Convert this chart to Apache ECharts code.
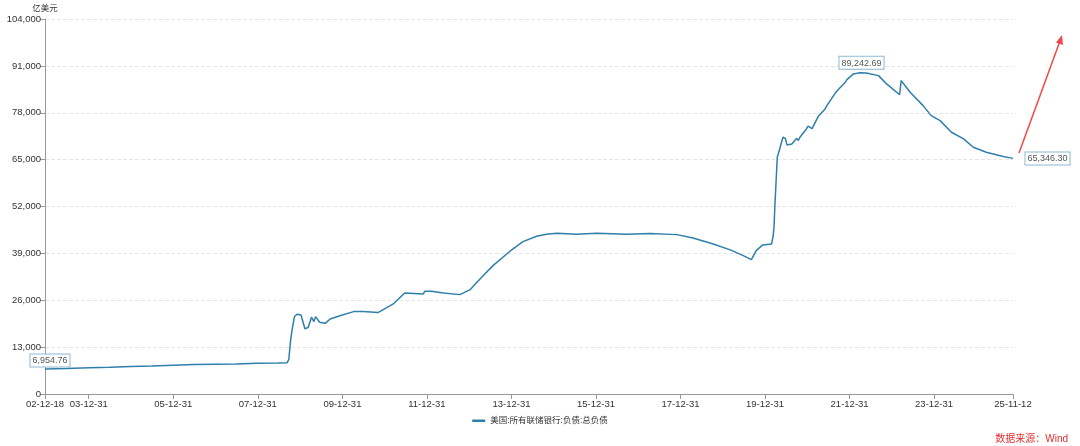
<!DOCTYPE html>
<html>
<head>
<meta charset="utf-8">
<script src="https://cdn.jsdelivr.net/npm/echarts@6/dist/echarts.min.js"></script>
<style>html,body{margin:0;padding:0;background:#fff}#c{width:1080px;height:446px}</style>
</head>
<body>
<div id="c"></div>
<script>
const seriesName = '美国:所有联储银行:负债:总负债';
const unitName = '亿美元';
const sourceText = '数据来源：Wind';
const dates = [
'2002-12-18','2003-06-25','2003-12-31','2004-06-30','2004-12-29','2005-06-29','2005-12-28','2006-06-28','2006-12-27','2007-06-27','2007-12-26','2008-06-25','2008-09-10',
'2008-09-24','2008-10-08','2008-10-22','2008-11-12','2008-12-03','2008-12-17','2009-01-07','2009-02-11','2009-03-11','2009-04-08','2009-04-29','2009-05-13','2009-06-17','2009-08-05','2009-09-16','2009-12-09','2010-04-07','2010-06-30','2010-11-03','2011-03-16','2011-06-22','2011-11-30','2011-12-14','2012-02-08','2012-05-23','2012-10-10','2013-01-09','2013-04-03','2013-07-24','2013-12-18','2014-04-09','2014-08-06','2014-10-29','2015-01-28','2015-07-15','2016-01-06','2016-09-21','2017-04-12','2017-11-29','2018-04-18','2018-10-10','2019-03-06','2019-06-26','2019-09-04','2019-10-16','2019-12-11','2020-02-26','2020-03-11','2020-03-18','2020-03-25','2020-04-15','2020-05-06','2020-06-03','2020-06-24','2020-07-08','2020-08-19','2020-09-30','2020-10-14','2020-10-28','2020-12-23','2021-01-06','2021-02-10','2021-03-24','2021-04-07','2021-06-02','2021-06-16','2021-08-25','2021-09-08','2021-11-24','2021-12-08','2022-02-02','2022-03-30','2022-04-13','2022-05-25','2022-09-07','2022-11-16','2023-03-08','2023-03-22','2023-06-07','2023-09-27','2023-12-06','2024-02-21','2024-05-29','2024-09-11','2024-12-04','2025-03-26','2025-08-20','2025-11-12'
];
const values = [
6954.76,7050,7250,7400,7600,7750,8000,8150,8250,8350,8550,8600,8700,
9600,14500,17800,21500,22100,22200,21900,18050,18500,21300,20100,21460,19900,19600,20800,21700,22850,22850,22570,24980,28030,27750,28500,28500,28030,27560,28950,31900,35600,39600,42260,43750,44300,44590,44300,44590,44300,44480,44200,43290,41620,39960,38380,37270,39760,41340,41620,43900,46500,52000,65670,67970,71210,70900,69080,69350,70900,70300,71210,73510,74300,73600,76290,77100,79060,79900,83220,83900,86470,87200,88770,89100,89242.69,89050,88300,85990,83000,86900,83690,79980,77200,75820,72590,70740,68430,67050,65840,65346.30
];
const xTickDates = ['2002-12-18','2003-12-31','2005-12-31','2007-12-31','2009-12-31','2011-12-31','2013-12-31','2015-12-31','2017-12-31','2019-12-31','2021-12-31','2023-12-31','2025-11-12'];
const yMin = 0, yMax = 104000, yStep = 13000;
const labelIdx = {start: 0, peak: values.indexOf(89242.69), end: values.length - 1};

function ts(s){const p=s.split('-');return Date.UTC(+p[0],+p[1]-1,+p[2]);}
function pad(n){return (n<10?'0':'')+n;}
function fmtDate(v){const d=new Date(v);return pad(d.getUTCFullYear()%100)+'-'+pad(d.getUTCMonth()+1)+'-'+pad(d.getUTCDate());}
function fmtNum(v){return v.toLocaleString('en-US',{minimumFractionDigits:2,maximumFractionDigits:2});}

const font = 'Liberation Sans, Noto Sans CJK SC, sans-serif';
const boxLabel = {show:true,backgroundColor:'#fff',borderColor:'#8db8cf',borderWidth:1,padding:[2,2,1,2],color:'#555',fontSize:9,fontFamily:font};
const data = dates.map((d,i)=>[ts(d), values[i]]);
function mp(i, lab){
  return {coord:[ts(dates[i]), values[i]], value:values[i],
    label:Object.assign({},boxLabel,{formatter:fmtNum(values[i])},lab)};
}
const xTicks = xTickDates.map(ts);
const lineColor = '#2f7fab';
const chart = echarts.init(document.getElementById('c'), null, {renderer:'canvas'});
chart.setOption({
  animation:false,
  backgroundColor:'#fff',
  grid:{left:45,right:67,top:19,bottom:52},
  legend:{bottom:16,left:'center',icon:'rect',itemWidth:13,itemHeight:2.5,itemGap:6,textStyle:{fontSize:8.5,color:'#333',fontFamily:font},data:[seriesName]},
  xAxis:{type:'value',min:xTicks[0],max:xTicks[xTicks.length-1],scale:true,
    axisLine:{lineStyle:{color:'#999'}},
    axisTick:{show:true,customValues:xTicks,length:5,lineStyle:{color:'#999'}},
    axisLabel:{customValues:xTicks,formatter:v=>fmtDate(v),fontSize:9.5,color:'#333',fontFamily:font,margin:6},
    splitLine:{show:false}},
  yAxis:{type:'value',min:yMin,max:yMax,interval:yStep,name:unitName,nameGap:6,
    nameTextStyle:{fontSize:8.5,color:'#333',fontFamily:font,align:'center'},
    axisLine:{show:true,lineStyle:{color:'#999'}},
    axisTick:{show:true,length:5,lineStyle:{color:'#999'}},
    axisLabel:{fontSize:9.5,color:'#333',fontFamily:font,margin:4,formatter:v=>v.toLocaleString('en-US')},
    splitLine:{lineStyle:{color:'#e6e6e6',type:'dashed'}}},
  series:[{name:seriesName,type:'line',symbol:'none',
    data:data,lineStyle:{color:lineColor,width:1.5},itemStyle:{color:lineColor},
    markPoint:{symbol:'rect',symbolSize:1,itemStyle:{color:'rgba(0,0,0,0)'},silent:true,
      data:[
        mp(labelIdx.start,{position:'top',offset:[5,0],distance:2}),
        mp(labelIdx.peak,{position:'top',distance:3}),
        mp(labelIdx.end,{position:'right',distance:12})
      ]}}],
  graphic:[
    {type:'line',shape:{x1:1019,y1:153,x2:1060,y2:41},style:{stroke:'#f04848',lineWidth:1.5}},
    {type:'polygon',shape:{points:[[1062,35],[1063,45],[1056,42.5]]},style:{fill:'#f04848'}},
    {type:'text',right:12,bottom:2,style:{text:sourceText,fill:'#e03030',font:'10px '+font}}
  ]
});
</script>
</body>
</html>
